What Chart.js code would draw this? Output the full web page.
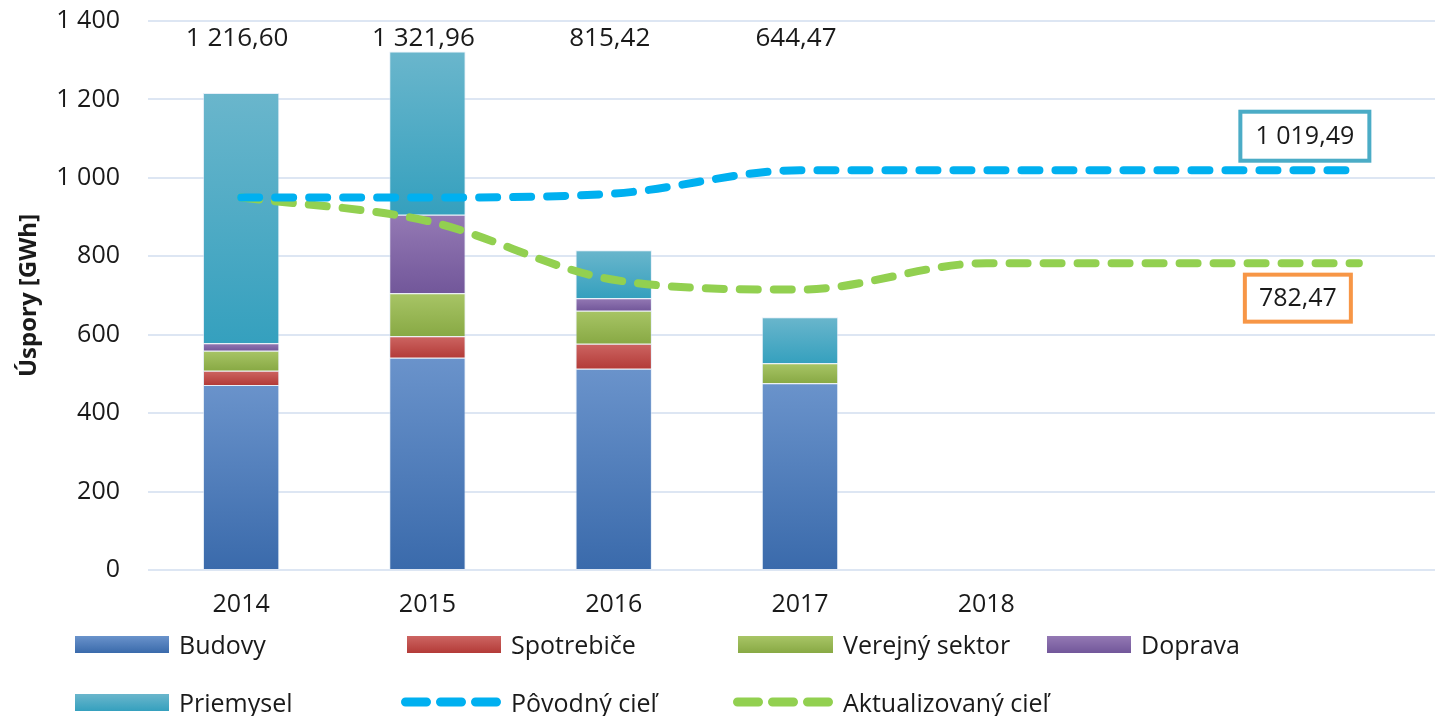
<!DOCTYPE html>
<html>
<head>
<meta charset="utf-8">
<script src="https://cdn.jsdelivr.net/npm/chart.js@4.4.1/dist/chart.umd.min.js"></script>
<style>
  html, body { margin: 0; padding: 0; background: #ffffff; overflow: hidden; }
  #wrap { position: relative; width: 1435px; height: 716px; overflow: hidden; font-family: "Open Sans", sans-serif; color: #1a1a1a; }
  #cv { position: absolute; left: 0; top: 0; }
  .lg { position: absolute; display: flex; align-items: center; font-size: 25px; white-space: nowrap; }
  .lg .box { height: 17px; margin-right: 10px; }
  .lg svg { margin-right: 10px; }
</style>
</head>
<body>
<div id="wrap">
  <canvas id="cv" width="1452" height="716" style="width:1452px;height:716px"></canvas>
  <div id="legend"></div>
</div>
<script>
// ---- data ----
const categories = ['2014', '2015', '2016', '2017', '2018', '', ''];
const budovy      = [472, 541, 513, 476];
const spotrebice  = [36, 55, 64, 0];
const verejny     = [51, 110, 84, 51];
const doprava     = [19, 200, 32, 0];
const priemysel   = [638.6, 416, 122.4, 117.5];
const povodnyCiel = [950, 950, 960, 1019.49, 1019.49, 1019.49, 1019.49];
const aktualizovanyCiel = [950, 890, 740, 715, 782.47, 782.47, 782.47];
const totals      = [1216.60, 1321.96, 815.42, 644.47];
const yTickValues = [0, 200, 400, 600, 800, 1000, 1200, 1400];

const seriesNames = ['Budovy', 'Spotrebiče', 'Verejný sektor', 'Doprava', 'Priemysel', 'Pôvodný cieľ', 'Aktualizovaný cieľ'];

// ---- styles ----
const barColors = [
  ['#6a93cb', '#3a6aab'],
  ['#cd6562', '#b33b38'],
  ['#a8c566', '#88a944'],
  ['#9479b4', '#72579a'],
  ['#6ab6cc', '#35a0be']
];
const lineColors = ['#00b0f0', '#92d050'];
const FONT = '"Open Sans", sans-serif';
const TEXT = '#1a1a1a';

function fmt(v, dec) {
  const s = v.toFixed(dec);
  let [ip, fp] = s.split('.');
  ip = ip.replace(/\B(?=(\d{3})+(?!\d))/g, '\u00a0');
  return fp ? ip + ',' + fp : ip;
}

const barSeries = [budovy, spotrebice, verejny, doprava, priemysel];

function gradientFor(di) {
  return function (ctx) {
    const chart = ctx.chart;
    const c = barColors[di];
    if (!chart.chartArea || ctx.type !== 'data') return c[1];
    const y = chart.scales.y;
    let base = 0;
    for (let k = 0; k < di; k++) base += barSeries[k][ctx.dataIndex] || 0;
    const top = base + (barSeries[di][ctx.dataIndex] || 0);
    const yTop = y.getPixelForValue(top);
    const yBot = y.getPixelForValue(base);
    if (!isFinite(yTop) || !isFinite(yBot) || yTop === yBot) return c[1];
    const g = chart.ctx.createLinearGradient(0, yTop, 0, yBot);
    g.addColorStop(0, c[0]);
    g.addColorStop(1, c[1]);
    return g;
  };
}

const datasets = [];
datasets.push({
  type: 'line', label: seriesNames[5], data: povodnyCiel, order: 0, stack: 'l1',
  borderColor: lineColors[0], borderWidth: 8, borderDash: [18, 16], borderCapStyle: 'round',
  pointRadius: 0, fill: false, cubicInterpolationMode: 'monotone'
});
datasets.push({
  type: 'line', label: seriesNames[6], data: aktualizovanyCiel, order: 0, stack: 'l2',
  borderColor: lineColors[1], borderWidth: 8, borderDash: [18, 16], borderCapStyle: 'round',
  pointRadius: 0, fill: false, cubicInterpolationMode: 'monotone'
});
barSeries.forEach((arr, i) => {
  datasets.push({
    type: 'bar', label: seriesNames[i], data: arr, order: 1, stack: 's',
    backgroundColor: gradientFor(i),
    borderColor: 'rgba(210,225,242,0.55)', borderWidth: 1,
    barPercentage: 0.41, categoryPercentage: 1.0
  });
});

const overlayPlugin = {
  id: 'overlay',
  afterDatasetsDraw(chart) {
    const ctx = chart.ctx, x = chart.scales.x, y = chart.scales.y;
    ctx.save();
    ctx.fillStyle = TEXT;
    ctx.font = '26px ' + FONT;
    ctx.textAlign = 'center';
    ctx.textBaseline = 'middle';
    totals.forEach((t, i) => {
      ctx.fillText(fmt(t, 2), x.getPixelForValue(i) - 4, y.getPixelForValue(1400) + 18);
    });
    // annotation boxes for final target values
    const last = povodnyCiel.length - 1;
    const boxes = [
      { v: povodnyCiel[last], color: '#4bacc6', dx: -54, dy: -34, w: 129, h: 49 },
      { v: aktualizovanyCiel[last], color: '#f79646', dx: -61, dy: 35, w: 106, h: 47 }
    ];
    ctx.font = '25px ' + FONT;
    boxes.forEach(b => {
      const cx = x.getPixelForValue(last) + b.dx;
      const cy = y.getPixelForValue(b.v) + b.dy;
      ctx.fillStyle = '#ffffff';
      ctx.fillRect(cx - b.w / 2, cy - b.h / 2, b.w, b.h);
      ctx.strokeStyle = b.color;
      ctx.lineWidth = 4;
      ctx.strokeRect(cx - b.w / 2, cy - b.h / 2, b.w, b.h);
      ctx.fillStyle = TEXT;
      ctx.fillText(fmt(b.v, 2), cx, cy + 1);
    });
    ctx.restore();
  }
};

new Chart(document.getElementById('cv'), {
  data: { labels: categories, datasets },
  options: {
    responsive: false,
    animation: false,
    layout: { padding: { top: 0, right: 0, bottom: 0, left: 0 } },
    plugins: { legend: { display: false }, tooltip: { enabled: false } },
    scales: {
      x: {
        stacked: true,
        grid: { display: false, drawTicks: false },
        border: { display: false },
        ticks: { color: TEXT, font: { family: FONT, size: 25 }, padding: 20, maxRotation: 0, autoSkip: false },
        afterFit(s) { s.height = 146; }
      },
      y: {
        stacked: true,
        min: 0, max: 1400,
        afterBuildTicks(s) { s.ticks = yTickValues.map(v => ({ value: v })); },
        grid: { color: '#dde6f3', lineWidth: 2, drawTicks: false },
        border: { display: false },
        ticks: { color: TEXT, font: { family: FONT, size: 25 }, padding: 28, callback: v => fmt(v, 0) },
        title: { display: true, text: 'Úspory [GWh]', color: TEXT, font: { family: FONT, size: 24, weight: 'bold' }, padding: { top: 15, bottom: 0 } },
        afterFit(s) { s.width = 148; s.paddingTop = 21; s.paddingBottom = 0; }
      }
    }
  },
  plugins: [overlayPlugin]
});

// ---- legend (HTML) ----
const legendItems = [
  { name: seriesNames[0], kind: 'box', c: barColors[0], x: 75, y: 644, w: 94 },
  { name: seriesNames[1], kind: 'box', c: barColors[1], x: 407, y: 644, w: 94 },
  { name: seriesNames[2], kind: 'box', c: barColors[2], x: 738, y: 644, w: 95 },
  { name: seriesNames[3], kind: 'box', c: barColors[3], x: 1047, y: 644, w: 84 },
  { name: seriesNames[4], kind: 'box', c: barColors[4], x: 75, y: 702, w: 94 },
  { name: seriesNames[5], kind: 'line', c: lineColors[0], x: 401, y: 702, w: 100 },
  { name: seriesNames[6], kind: 'line', c: lineColors[1], x: 733, y: 702, w: 100 }
];
const lg = document.getElementById('legend');
legendItems.forEach(it => {
  const d = document.createElement('div');
  d.className = 'lg';
  d.style.left = it.x + 'px';
  d.style.top = (it.y - 17) + 'px';
  d.style.height = '34px';
  if (it.kind === 'box') {
    const b = document.createElement('span');
    b.className = 'box';
    b.style.width = it.w + 'px';
    b.style.background = 'linear-gradient(' + it.c[0] + ',' + it.c[1] + ')';
    d.appendChild(b);
  } else {
    const ns = 'http://www.w3.org/2000/svg';
    const svg = document.createElementNS(ns, 'svg');
    svg.setAttribute('width', it.w);
    svg.setAttribute('height', 12);
    const ln = document.createElementNS(ns, 'line');
    ln.setAttribute('x1', 4.5); ln.setAttribute('x2', it.w - 4.5);
    ln.setAttribute('y1', 6); ln.setAttribute('y2', 6);
    ln.setAttribute('stroke', it.c);
    ln.setAttribute('stroke-width', 9);
    ln.setAttribute('stroke-linecap', 'round');
    ln.setAttribute('stroke-dasharray', '21 14');
    svg.appendChild(ln);
    d.appendChild(svg);
  }
  const t = document.createElement('span');
  t.textContent = it.name;
  d.appendChild(t);
  lg.appendChild(d);
});
</script>
</body>
</html>
